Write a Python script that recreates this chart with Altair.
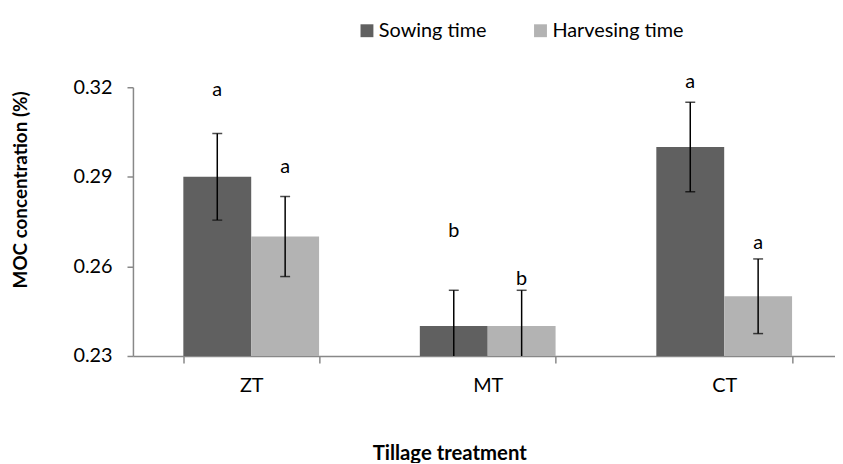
import altair as alt
import pandas as pd

categories = ["ZT", "MT", "CT"]
series = ["Sowing time", "Harvesing time"]
sowing = [0.29, 0.24, 0.30]
harvest = [0.27, 0.24, 0.25]
sowing_err = [0.0145, 0.012, 0.015]
harvest_err = [0.0134, 0.012, 0.0125]
sowing_letters = ["a", "b", "a"]
harvest_letters = ["a", "b", "a"]
sowing_letter_y = [0.319, 0.2717, 0.3216]
harvest_letter_y = [0.2933, 0.2558, 0.2678]
y_ticks = [0.23, 0.26, 0.29, 0.32]

rows = []
for i, c in enumerate(categories):
    rows.append(dict(cat=c, series=series[0], value=sowing[i],
                     lo=sowing[i] - sowing_err[i], hi=sowing[i] + sowing_err[i],
                     letter=sowing_letters[i], ly=sowing_letter_y[i]))
    rows.append(dict(cat=c, series=series[1], value=harvest[i],
                     lo=harvest[i] - harvest_err[i], hi=harvest[i] + harvest_err[i],
                     letter=harvest_letters[i], ly=harvest_letter_y[i]))
df = pd.DataFrame(rows)

FONT = "Lato"
AXIS_COLOR = "#888888"

x_enc = alt.X(
    "cat:N",
    sort=categories,
    scale=alt.Scale(paddingInner=0.426, paddingOuter=0.1973, align=0.54),
    axis=alt.Axis(
        title="Tillage treatment",
        labelAngle=0,
        tickBand="extent",
        tickSize=7,
        labelPadding=13,
        labelFont=FONT,
        labelFontSize=20,
        labelColor="#000000",
        titleFont=FONT,
        titleFontSize=20.5,
        titleFontWeight="bold",
        titleColor="#000000",
        titleX=319,
        titleY=98,
        titleBaseline="middle",
        titleAlign="center",
        domainColor=AXIS_COLOR,
        tickColor=AXIS_COLOR,
        domainWidth=1.5,
        tickWidth=1.5,
    ),
)
xoff = alt.XOffset("series:N", sort=series, scale=alt.Scale(domain=series))
y_scale = alt.Scale(domain=[0.23, 0.32], nice=False, zero=False)

bars = alt.Chart(df).mark_bar(clip=True).encode(
    x=x_enc,
    xOffset=xoff,
    y=alt.Y(
        "value:Q",
        scale=y_scale,
        axis=alt.Axis(
            title="MOC concentration (%)",
            values=y_ticks,
            format=".2f",
            grid=False,
            tickSize=6,
            labelPadding=15,
            labelFont=FONT,
            labelFontSize=20,
            labelColor="#000000",
            titleFont=FONT,
            titleFontSize=19,
            titleFontWeight="bold",
            titleColor="#000000",
            titleAngle=-90,
            titleX=-113,
            titleY=103,
            titleBaseline="middle",
            titleAlign="center",
            domainColor=AXIS_COLOR,
            tickColor=AXIS_COLOR,
            domainWidth=1.5,
            tickWidth=1.5,
        ),
    ),
    color=alt.Color(
        "series:N",
        scale=alt.Scale(domain=series, range=["#606060", "#b3b3b3"]),
        legend=alt.Legend(
            title=None,
            orient="none",
            direction="horizontal",
            legendX=226,
            legendY=-67,
            symbolType="square",
            symbolSize=169,
            symbolStrokeWidth=0,
            labelFont=FONT,
            labelFontSize=20,
            labelColor="#000000",
            labelOffset=2,
            columnPadding=44,
        ),
    ),
)

rules = alt.Chart(df).mark_rule(color="black", strokeWidth=1.5, clip=True).encode(
    x=alt.X("cat:N", sort=categories),
    xOffset=xoff,
    y=alt.Y("lo:Q", scale=y_scale),
    y2="hi:Q",
)

caps_hi = alt.Chart(df).mark_tick(color="black", thickness=1.5, size=10, clip=True).encode(
    x=alt.X("cat:N", sort=categories),
    xOffset=xoff,
    y=alt.Y("hi:Q", scale=y_scale),
)
caps_lo = alt.Chart(df).mark_tick(color="black", thickness=1.5, size=10, clip=True).encode(
    x=alt.X("cat:N", sort=categories),
    xOffset=xoff,
    y=alt.Y("lo:Q", scale=y_scale),
)

letters = alt.Chart(df).mark_text(font=FONT, fontSize=20, color="black", baseline="middle").encode(
    x=alt.X("cat:N", sort=categories),
    xOffset=xoff,
    y=alt.Y("ly:Q", scale=y_scale),
    text="letter:N",
)

chart = alt.layer(bars, rules, caps_hi, caps_lo, letters).properties(
    width=708,
    height=271,
    autosize=alt.AutoSizeParams(type="none"),
    padding={"left": 126, "top": 78, "right": 0, "bottom": 106},
).configure_view(stroke=None)

chart.save("out.html", embed_options={"renderer": "svg", "actions": False})
